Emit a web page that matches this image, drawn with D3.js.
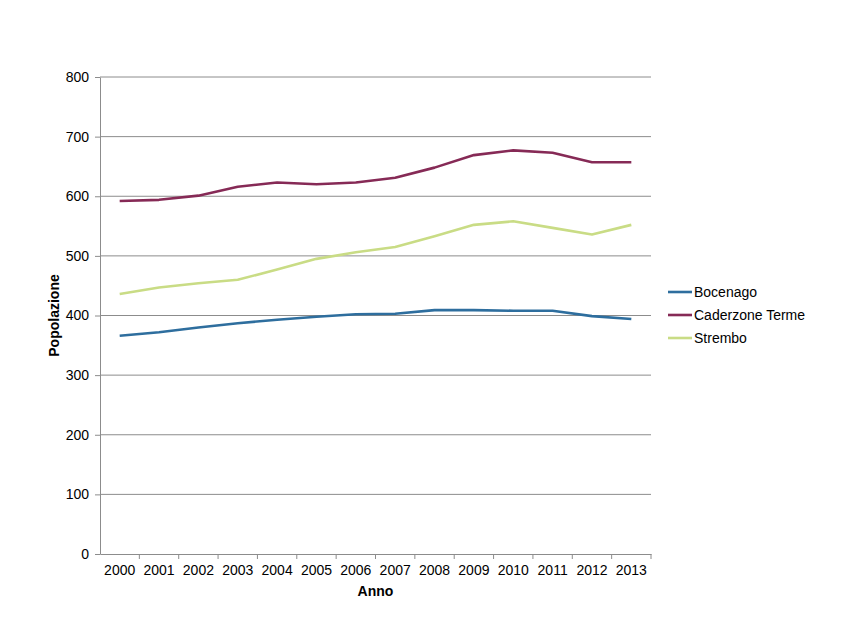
<!DOCTYPE html>
<html>
<head>
<meta charset="utf-8">
<script src="https://cdn.jsdelivr.net/npm/d3@7"></script>
<style>
  body { margin: 0; background: #fff; }
  text { font-family: "Liberation Sans", Arial, sans-serif; }
</style>
</head>
<body>
<script>

WIDTH = 850;
HEIGHT = 638;
MARGIN = ({top: 77, right: 199, bottom: 84, left: 100});
FONT_SIZE = 14;

var years = ["2000", "2001", "2002", "2003", "2004", "2005", "2006",
             "2007", "2008", "2009", "2010", "2011", "2012", "2013"];
var bocenago = [366, 372, 380, 387, 393, 398, 402, 403, 409, 409, 408, 408, 399, 394];
var caderzone = [592, 594, 601, 616, 623, 620, 623, 631, 648, 669, 677, 673, 657, 657];
var strembo = [436, 447, 454, 460, 477, 495, 506, 515, 533, 552, 558, 547, 536, 552];
var seriesNames = ["Bocenago", "Caderzone Terme", "Strembo"];
var yTicks = [0, 100, 200, 300, 400, 500, 600, 700, 800];

var COLORS = ["#2E6E9E", "#862A56", "#C9DC85"];
var series = [bocenago, caderzone, strembo];

var svg = d3.select("body").append("svg")
    .attr("width", WIDTH)
    .attr("height", HEIGHT);

var x = d3.scaleBand()
    .domain(years)
    .range([MARGIN.left, WIDTH - MARGIN.right]);

var y = d3.scaleLinear()
    .domain([0, 800])
    .range([HEIGHT - MARGIN.bottom, MARGIN.top]);

// gridlines
svg.append("g")
    .selectAll("line")
    .data(yTicks.slice(1))
    .enter().append("line")
    .attr("x1", MARGIN.left)
    .attr("x2", WIDTH - MARGIN.right)
    .attr("y1", d => y(d))
    .attr("y2", d => y(d))
    .attr("stroke", "#8c8c8c")
    .attr("stroke-width", 1);

var yAxis = g => g
    .attr("transform", `translate(${MARGIN.left},0)`)
    .call(d3.axisLeft(y).tickValues(yTicks).tickSize(5).tickSizeOuter(0).tickPadding(6))
    .call(g => g.selectAll("line, path").attr("stroke", "#8c8c8c"))
    .call(g => g.selectAll("text").attr("font-size", FONT_SIZE).attr("fill", "#000")
        .attr("font-family", "Liberation Sans, Arial, sans-serif"));

// x axis: ticks sit on band boundaries, drawn separately below
var xAxis = g => g
    .attr("transform", `translate(0,${HEIGHT - MARGIN.bottom})`)
    .call(d3.axisBottom(x).tickSize(0).tickPadding(11))
    .call(g => g.select(".domain").attr("stroke", "#8c8c8c"))
    .call(g => g.selectAll("text").attr("font-size", FONT_SIZE).attr("fill", "#000")
        .attr("font-family", "Liberation Sans, Arial, sans-serif"));

svg.append("g").call(yAxis);
svg.append("g").call(xAxis);

svg.append("g")
    .selectAll("line")
    .data(years.slice(1).concat(["end"]))
    .enter().append("line")
    .attr("x1", (d, i) => i < years.length - 1 ? x(d) : x.range()[1])
    .attr("x2", (d, i) => i < years.length - 1 ? x(d) : x.range()[1])
    .attr("y1", y(0))
    .attr("y2", y(0) + 5)
    .attr("stroke", "#8c8c8c");

var line = d3.line()
    .x((d, i) => x(years[i]) + x.bandwidth() / 2)
    .y(d => y(d));

svg.append("g")
    .selectAll("path")
    .data(series)
    .enter().append("path")
    .attr("d", d => line(d))
    .attr("fill", "none")
    .attr("stroke", (d, i) => COLORS[i])
    .attr("stroke-width", 2.6)
    .attr("stroke-linejoin", "round");

// legend
var legend = svg.append("g")
    .selectAll("g")
    .data(seriesNames)
    .enter().append("g")
    .attr("transform", (d, i) => "translate(668," + (292 + i * 23) + ")");

legend.append("line")
    .attr("x1", 0)
    .attr("x2", 24)
    .attr("stroke", (d, i) => COLORS[i])
    .attr("stroke-width", 2.6);

legend.append("text")
    .attr("x", 26)
    .attr("dy", "0.35em")
    .attr("font-size", FONT_SIZE)
    .text(d => d);

// axis titles
svg.append("text")
    .attr("x", x.range()[0] + (x.range()[1] - x.range()[0]) / 2)
    .attr("y", 596)
    .attr("text-anchor", "middle")
    .attr("font-size", FONT_SIZE)
    .attr("font-weight", "bold")
    .text("Anno");

svg.append("text")
    .attr("transform", "translate(59," + ((y(0) + y(800)) / 2) + ") rotate(-90)")
    .attr("text-anchor", "middle")
    .attr("font-size", FONT_SIZE)
    .attr("font-weight", "bold")
    .text("Popolazione");

</script>
</body>
</html>
